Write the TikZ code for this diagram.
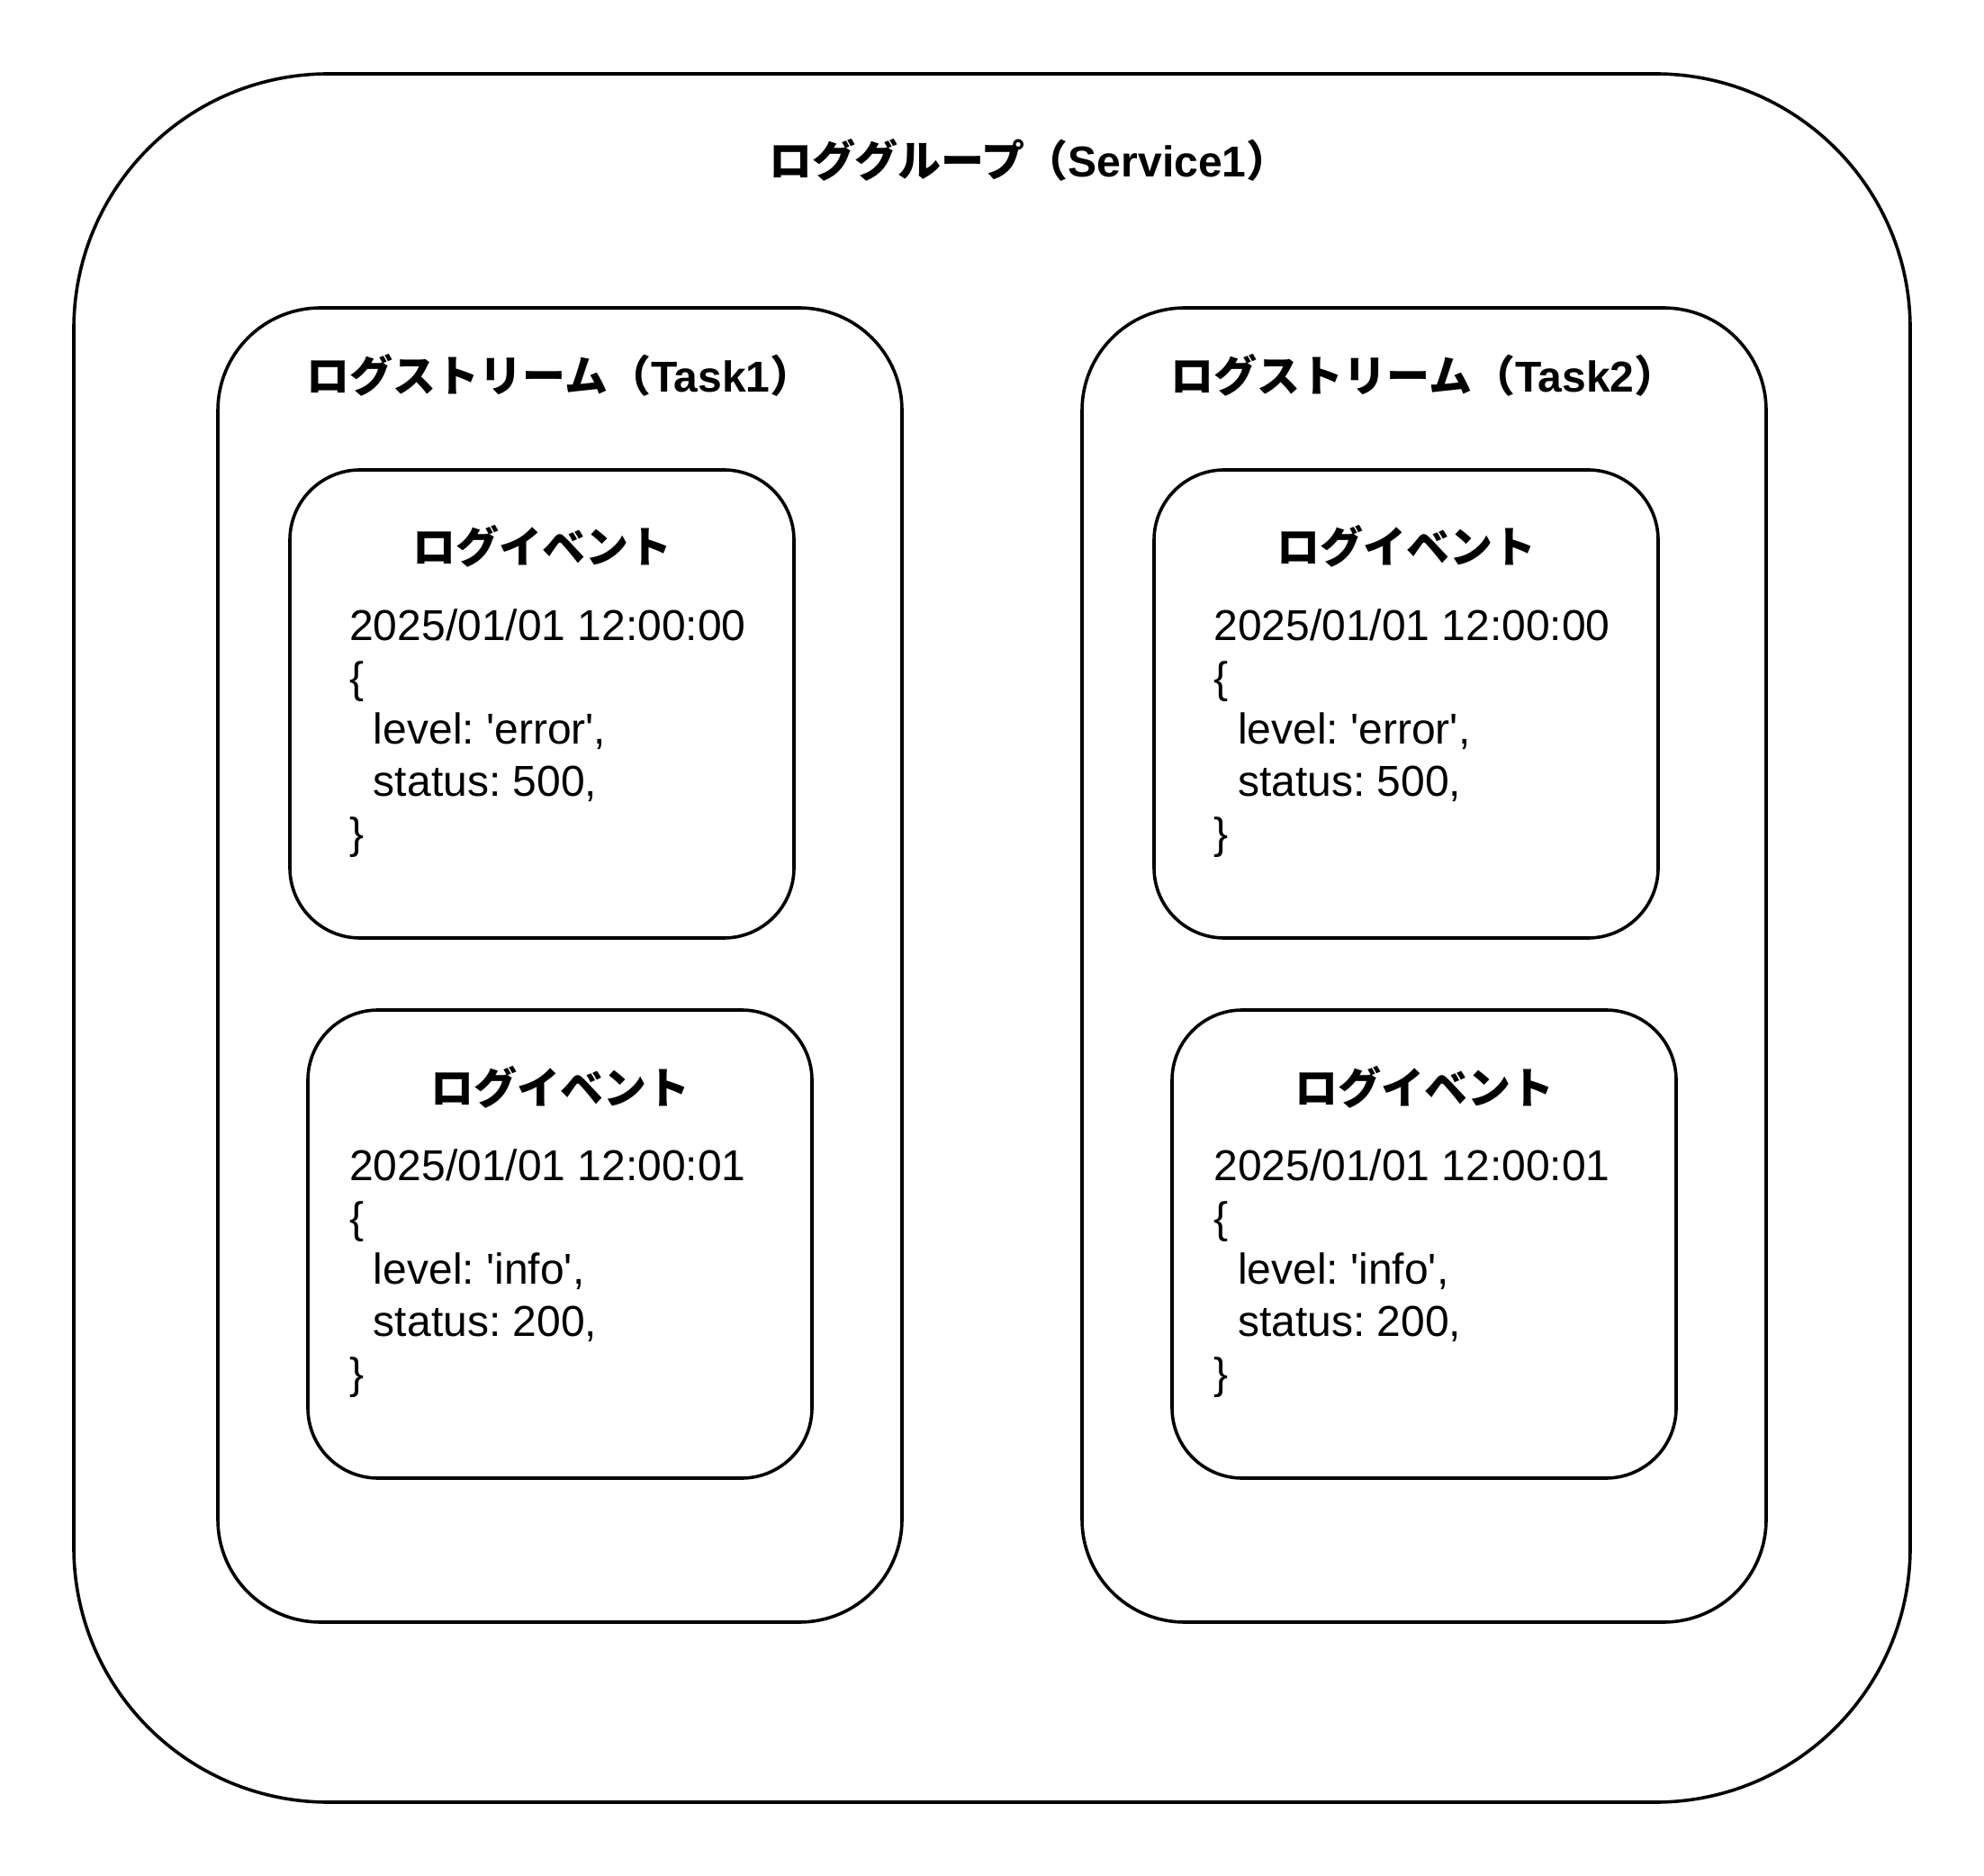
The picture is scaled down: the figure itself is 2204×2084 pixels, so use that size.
\documentclass[tikz,border=0pt]{standalone}
\usepackage{fontspec}
\setmainfont{Liberation Sans}
\newfontfamily\cjk{Noto Sans CJK JP}
\frenchspacing
\newcommand\evtext[6]{%
  \node[body] (#1t) at (#2,#3) {2025/01/01 #4};
  \node[body] (#1o) at (#2,#3+57.6) {\{};
  \node[body] (#1l) at (#2,#3+115.2) {\hspace*{0.556em}level: \textquotesingle#5\textquotesingle,};
  \node[body] (#1s) at (#2,#3+172.8) {\hspace*{0.556em}status: #6,};
  \node[body] (#1c) at (#2,#3+230.4) {\}};%
}
\begin{document}
\begin{tikzpicture}[x=0.25pt,y=-0.25pt,
  box/.style={draw=black,line width=0.9pt,inner sep=0pt,outer sep=0pt},
  grpbox/.style={box,minimum width=510pt,minimum height=480pt,rounded corners=70.75pt},
  strbox/.style={box,minimum width=190pt,minimum height=365pt,rounded corners=28.5pt},
  evbox/.style={box,minimum width=140pt,minimum height=130pt,rounded corners=19.5pt},
  ttl/.style={font=\bfseries\fontsize{12}{14.4}\selectfont,inner sep=0pt,anchor=base},
  body/.style={font=\fontsize{12}{14.4}\selectfont\frenchspacing,inner sep=0pt,anchor=base west}]
\useasboundingbox (0,0) rectangle (2204,2084);
% containers
\node[grpbox] (grp) at (1102,1042) {};
\node[strbox] (st1) at (622,1072) {};
\node[strbox] (st2) at (1582,1072) {};
\node[evbox] (ev1) at (602,782) {};
\node[evbox] (ev2) at (622,1382) {};
\node[evbox] (ev3) at (1562,782) {};
\node[evbox] (ev4) at (1582,1382) {};
% titles
\node[ttl,anchor=base west] (grpt) at (854,197) {{\cjk ロググループ（}Service1{\cjk ）}};
\node[ttl] (st1t) at (622,436) {{\cjk ログストリーム（}Task1{\cjk ）}};
\node[ttl] (st2t) at (1582,436) {{\cjk ログストリーム（}Task2{\cjk ）}};
\node[ttl] (ev1h) at (602,626) {\cjk ログイベント};
\node[ttl] (ev2h) at (622,1226) {\cjk ログイベント};
\node[ttl] (ev3h) at (1562,626) {\cjk ログイベント};
\node[ttl] (ev4h) at (1582,1226) {\cjk ログイベント};
% bodies
\evtext{eva}{387.5}{711.7}{12:00:00}{error}{500}
\evtext{evb}{387.5}{1311.7}{12:00:01}{info}{200}
\evtext{evc}{1347.5}{711.7}{12:00:00}{error}{500}
\evtext{evd}{1347.5}{1311.7}{12:00:01}{info}{200}
\end{tikzpicture}
\end{document}
